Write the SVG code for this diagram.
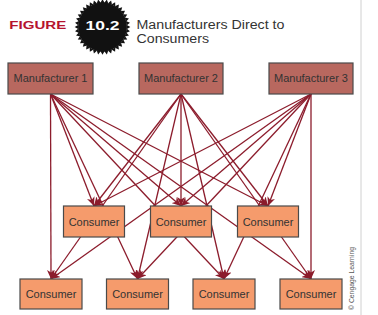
<svg xmlns="http://www.w3.org/2000/svg" xmlns:xlink="http://www.w3.org/1999/xlink" width="378" height="315" viewBox="0 0 378 315">
<style>
.mfr{fill:#b8685f;stroke:#4a4a4a;stroke-width:1.2}
.con{fill:#f59b6c;stroke:#4a4a4a;stroke-width:1.2}
.lbl{font-family:"Liberation Sans",Arial,sans-serif;font-size:11px;fill:#333;text-anchor:middle}
.edge{stroke:#8c1c2c;stroke-width:1.3;fill:none;marker-end:url(#ah)}
</style>
<defs>
<marker id="ah" markerWidth="10" markerHeight="8" refX="9" refY="4" orient="auto" markerUnits="userSpaceOnUse">
<path d="M0,0 L9,4 L0,8 L2.5,4 Z" fill="#8c1c2c"/>
</marker>
<polygon id="tooth" points="-2.2,-24 0,-27.8 2.2,-24"/>
<g id="t2"><use xlink:href="#tooth"/><use xlink:href="#tooth" transform="rotate(9)"/></g>
<g id="t4"><use xlink:href="#t2"/><use xlink:href="#t2" transform="rotate(18)"/></g>
<g id="t8"><use xlink:href="#t4"/><use xlink:href="#t4" transform="rotate(36)"/></g>
</defs>
<rect width="378" height="315" fill="#fff"/>
<line x1="361" y1="0" x2="361" y2="315" stroke="#d0d0d0" stroke-width="1"/>
<g id="header">
<text x="9.3" y="28.7" font-family="'Liberation Sans',Arial,sans-serif" font-weight="bold" font-size="11" fill="#b5132f" textLength="57" lengthAdjust="spacingAndGlyphs">FIGURE</text>
<g transform="translate(102.5,27)" fill="#111">
<circle r="24.4"/>
<use xlink:href="#t8"/><use xlink:href="#t8" transform="rotate(72)"/><use xlink:href="#t8" transform="rotate(144)"/><use xlink:href="#t8" transform="rotate(216)"/><use xlink:href="#t8" transform="rotate(288)"/>
</g>
<text x="102.5" y="30" font-family="'Liberation Sans',Arial,sans-serif" font-weight="bold" font-size="12" fill="#fff" text-anchor="middle" textLength="34" lengthAdjust="spacingAndGlyphs">10.2</text>
<text font-family="'Liberation Sans',Arial,sans-serif" font-size="12" fill="#333"><tspan x="136.5" y="29.3" textLength="148" lengthAdjust="spacingAndGlyphs">Manufacturers Direct to</tspan><tspan x="136.5" y="43" textLength="72.5" lengthAdjust="spacingAndGlyphs">Consumers</tspan></text>
</g>
<g id="connectors">
<line class="edge" x1="50.5" y1="94" x2="94" y2="206"/>
<line class="edge" x1="50.5" y1="94" x2="181" y2="206"/>
<line class="edge" x1="50.5" y1="94" x2="268" y2="206"/>
<line class="edge" x1="50.5" y1="94" x2="51" y2="279"/>
<line class="edge" x1="50.5" y1="94" x2="137.5" y2="279"/>
<line class="edge" x1="50.5" y1="94" x2="224" y2="279"/>
<line class="edge" x1="50.5" y1="94" x2="311" y2="279"/>
<line class="edge" x1="181" y1="94" x2="94" y2="206"/>
<line class="edge" x1="181" y1="94" x2="181" y2="206"/>
<line class="edge" x1="181" y1="94" x2="268" y2="206"/>
<line class="edge" x1="181" y1="94" x2="51" y2="279"/>
<line class="edge" x1="181" y1="94" x2="137.5" y2="279"/>
<line class="edge" x1="181" y1="94" x2="224" y2="279"/>
<line class="edge" x1="181" y1="94" x2="311" y2="279"/>
<line class="edge" x1="311" y1="94" x2="94" y2="206"/>
<line class="edge" x1="311" y1="94" x2="181" y2="206"/>
<line class="edge" x1="311" y1="94" x2="268" y2="206"/>
<line class="edge" x1="311" y1="94" x2="51" y2="279"/>
<line class="edge" x1="311" y1="94" x2="137.5" y2="279"/>
<line class="edge" x1="311" y1="94" x2="224" y2="279"/>
<line class="edge" x1="311" y1="94" x2="311" y2="279"/>
</g>
<g id="m1"><rect class="mfr" x="8" y="63" width="85" height="31"/><text class="lbl" x="50.5" y="82.3">Manufacturer 1</text></g>
<g id="m2"><rect class="mfr" x="139" y="63" width="84" height="31"/><text class="lbl" x="181" y="82.3">Manufacturer 2</text></g>
<g id="m3"><rect class="mfr" x="269" y="63" width="84" height="31"/><text class="lbl" x="311" y="82.3">Manufacturer 3</text></g>
<g id="c1"><rect class="con" x="63.5" y="206" width="61" height="31"/><text class="lbl" x="94" y="225.5">Consumer</text></g>
<g id="c2"><rect class="con" x="150.5" y="206" width="61" height="31"/><text class="lbl" x="181" y="225.5">Consumer</text></g>
<g id="c3"><rect class="con" x="237.5" y="206" width="61" height="31"/><text class="lbl" x="268" y="225.5">Consumer</text></g>
<g id="b1"><rect class="con" x="20" y="279" width="62" height="30"/><text class="lbl" x="51" y="297.5">Consumer</text></g>
<g id="b2"><rect class="con" x="106.5" y="279" width="62" height="30"/><text class="lbl" x="137.5" y="297.5">Consumer</text></g>
<g id="b3"><rect class="con" x="193" y="279" width="62" height="30"/><text class="lbl" x="224" y="297.5">Consumer</text></g>
<g id="b4"><rect class="con" x="280" y="279" width="62" height="30"/><text class="lbl" x="311" y="297.5">Consumer</text></g>
<text transform="translate(354,310) rotate(-90)" font-family="'Liberation Sans',Arial,sans-serif" font-size="7" fill="#555" textLength="63" lengthAdjust="spacingAndGlyphs">© Cengage Learning</text>
</svg>
